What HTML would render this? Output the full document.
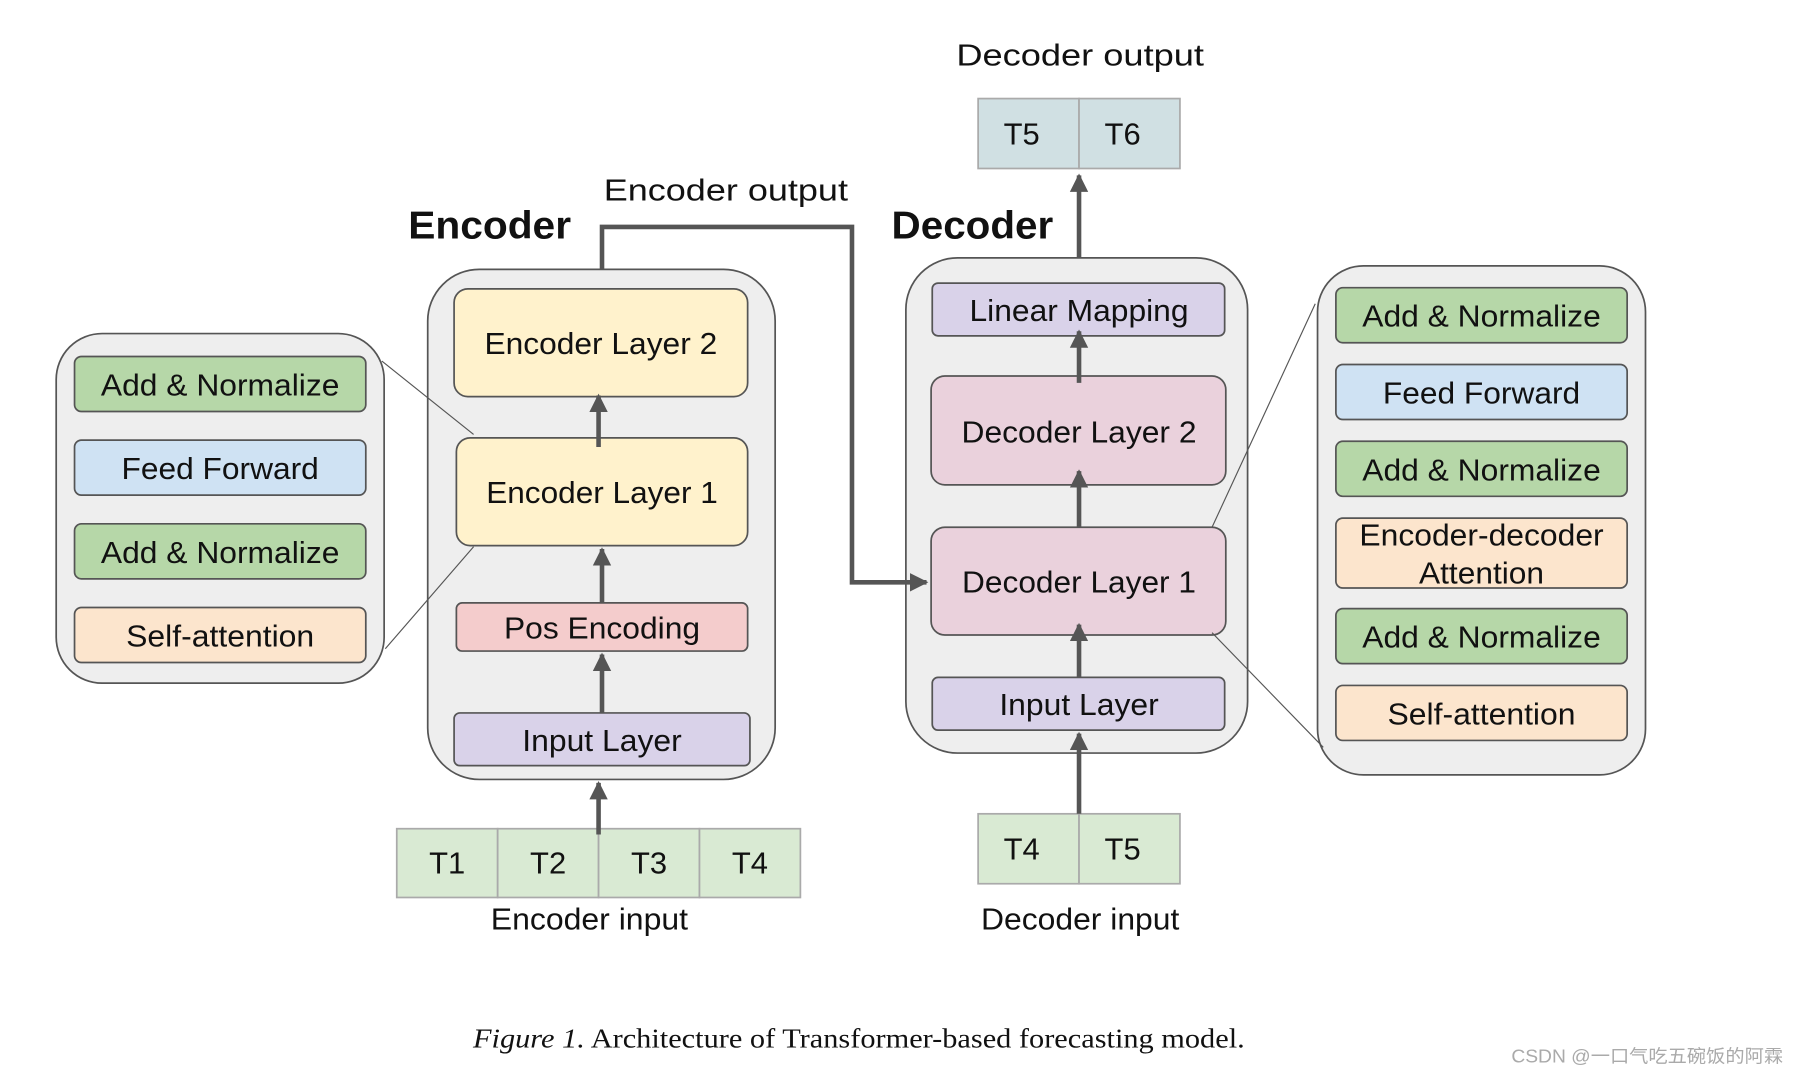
<!DOCTYPE html>
<html><head><meta charset="utf-8"><style>
html,body{margin:0;padding:0;background:#fff;overflow:hidden}
svg{display:block}
text{font-family:"Liberation Sans",sans-serif;fill:#111}
</style></head><body>
<svg width="1798" height="1074" viewBox="0 0 1568 937" preserveAspectRatio="none" xmlns="http://www.w3.org/2000/svg">
<defs>
<marker id="ah" viewBox="0 0 10 10" refX="9" refY="5" markerWidth="4" markerHeight="4.5" orient="auto" markerUnits="strokeWidth"><path d="M0,0 L10,5 L0,10 z" fill="#555"/></marker>
</defs>
<g stroke="#555" stroke-width="1.5">
<rect x="49" y="291" width="286" height="305" rx="40" fill="#eeeeee"/>
<rect x="65" y="311" width="254" height="48" rx="6" fill="#b6d7a8"/>
<rect x="65" y="384" width="254" height="48" rx="6" fill="#cfe2f3"/>
<rect x="65" y="457" width="254" height="48" rx="6" fill="#b6d7a8"/>
<rect x="65" y="530" width="254" height="48" rx="6" fill="#fce5cd"/>
<rect x="373" y="235" width="303" height="445" rx="45" fill="#eeeeee"/>
<rect x="396" y="252" width="256" height="94" rx="12" fill="#fff2cc"/>
<rect x="398" y="382" width="254" height="94" rx="12" fill="#fff2cc"/>
<rect x="398" y="526" width="254" height="42" rx="5" fill="#f4cccc"/>
<rect x="396" y="622" width="258" height="46" rx="5" fill="#d9d2e9"/>
<line x1="333" y1="315" x2="413" y2="379" stroke-width="1"/>
<line x1="336" y1="566" x2="413" y2="477" stroke-width="1"/>
<rect x="790" y="225" width="298" height="432" rx="45" fill="#eeeeee"/>
<rect x="813" y="247" width="255" height="46" rx="5" fill="#d9d2e9"/>
<rect x="812" y="328" width="257" height="95" rx="12" fill="#ead1dc"/>
<rect x="812" y="460" width="257" height="94" rx="12" fill="#ead1dc"/>
<rect x="813" y="591" width="255" height="46" rx="5" fill="#d9d2e9"/>
<rect x="1149" y="232" width="286" height="444" rx="40" fill="#eeeeee"/>
<rect x="1165" y="251" width="254" height="48" rx="6" fill="#b6d7a8"/>
<rect x="1165" y="318" width="254" height="48" rx="6" fill="#cfe2f3"/>
<rect x="1165" y="385" width="254" height="48" rx="6" fill="#b6d7a8"/>
<rect x="1165" y="452" width="254" height="61" rx="6" fill="#fce5cd"/>
<rect x="1165" y="531" width="254" height="48" rx="6" fill="#b6d7a8"/>
<rect x="1165" y="598" width="254" height="48" rx="6" fill="#fce5cd"/>
<line x1="1057" y1="460" x2="1147" y2="265" stroke-width="1"/>
<line x1="1057" y1="552" x2="1154" y2="652" stroke-width="1"/>
<g fill="#d9ead3" stroke="#aaa">
<rect x="346" y="723" width="88" height="60"/><rect x="434" y="723" width="88" height="60"/>
<rect x="522" y="723" width="88" height="60"/><rect x="610" y="723" width="88" height="60"/>
<rect x="853" y="710" width="88" height="61"/><rect x="941" y="710" width="88" height="61"/>
</g>
<g fill="#d0e0e3" stroke="#aaa">
<rect x="853" y="86" width="88" height="61"/><rect x="941" y="86" width="88" height="61"/>
</g>
</g>
<g stroke="#555" stroke-width="4" fill="none" marker-end="url(#ah)">
<line x1="522" y1="728" x2="522" y2="683"/>
<line x1="525" y1="622" x2="525" y2="571"/>
<line x1="525" y1="526" x2="525" y2="479"/>
<line x1="522" y1="390" x2="522" y2="345"/>
<line x1="941" y1="710" x2="941" y2="640"/>
<line x1="941" y1="591" x2="941" y2="545"/>
<line x1="941" y1="460" x2="941" y2="411"/>
<line x1="941" y1="334" x2="941" y2="289"/>
<line x1="941" y1="225" x2="941" y2="153"/>
<polyline points="525,235 525,198 743,198 743,508 808,508"/>
</g>
<g font-size="27" text-anchor="middle" lengthAdjust="spacingAndGlyphs">
<text x="192" y="345" textLength="208" lengthAdjust="spacingAndGlyphs">Add &amp; Normalize</text>
<text x="192" y="418" textLength="172" lengthAdjust="spacingAndGlyphs">Feed Forward</text>
<text x="192" y="491" textLength="208" lengthAdjust="spacingAndGlyphs">Add &amp; Normalize</text>
<text x="192" y="564" textLength="164" lengthAdjust="spacingAndGlyphs">Self-attention</text>
<text x="524" y="309" textLength="203" lengthAdjust="spacingAndGlyphs">Encoder Layer 2</text>
<text x="525" y="439" textLength="202" lengthAdjust="spacingAndGlyphs">Encoder Layer 1</text>
<text x="525" y="557" textLength="171" lengthAdjust="spacingAndGlyphs">Pos Encoding</text>
<text x="525" y="655" textLength="139" lengthAdjust="spacingAndGlyphs">Input Layer</text>
<text x="941" y="280" textLength="191" lengthAdjust="spacingAndGlyphs">Linear Mapping</text>
<text x="941" y="386" textLength="205" lengthAdjust="spacingAndGlyphs">Decoder Layer 2</text>
<text x="941" y="517" textLength="204" lengthAdjust="spacingAndGlyphs">Decoder Layer 1</text>
<text x="941" y="624" textLength="139" lengthAdjust="spacingAndGlyphs">Input Layer</text>
<text x="1292" y="285" textLength="208" lengthAdjust="spacingAndGlyphs">Add &amp; Normalize</text>
<text x="1292" y="352" textLength="172" lengthAdjust="spacingAndGlyphs">Feed Forward</text>
<text x="1292" y="419" textLength="208" lengthAdjust="spacingAndGlyphs">Add &amp; Normalize</text>
<text x="1292" y="476" textLength="213" lengthAdjust="spacingAndGlyphs">Encoder-decoder</text>
<text x="1292" y="509" textLength="109" lengthAdjust="spacingAndGlyphs">Attention</text>
<text x="1292" y="565" textLength="208" lengthAdjust="spacingAndGlyphs">Add &amp; Normalize</text>
<text x="1292" y="632" textLength="164" lengthAdjust="spacingAndGlyphs">Self-attention</text>
<text x="390" y="762">T1</text><text x="478" y="762">T2</text><text x="566" y="762">T3</text><text x="654" y="762">T4</text>
<text x="891" y="750">T4</text><text x="979" y="750">T5</text>
<text x="891" y="126">T5</text><text x="979" y="126">T6</text>
<text x="514" y="811" textLength="172" lengthAdjust="spacingAndGlyphs">Encoder input</text>
<text x="942" y="811" textLength="173" lengthAdjust="spacingAndGlyphs">Decoder input</text>
<text x="942" y="57" textLength="216" lengthAdjust="spacingAndGlyphs">Decoder output</text>
<text x="633" y="175" textLength="213" lengthAdjust="spacingAndGlyphs">Encoder output</text>
<text x="427" y="208" font-size="34" font-weight="bold" textLength="142" lengthAdjust="spacingAndGlyphs">Encoder</text>
<text x="848" y="208" font-size="34" font-weight="bold" textLength="141" lengthAdjust="spacingAndGlyphs">Decoder</text>
</g>
<text x="749" y="914" font-size="24" text-anchor="middle" textLength="673" lengthAdjust="spacingAndGlyphs" style="font-family:'Liberation Serif',serif"><tspan font-style="italic">Figure 1.</tspan> Architecture of Transformer-based forecasting model.</text>
<text x="1555" y="927" font-size="16" text-anchor="end" textLength="237" lengthAdjust="spacingAndGlyphs" style="font-family:'Liberation Sans','Noto Sans CJK SC',sans-serif;fill:#aaa">CSDN @一口气吃五碗饭的阿霖</text>
</svg>
</body></html>
